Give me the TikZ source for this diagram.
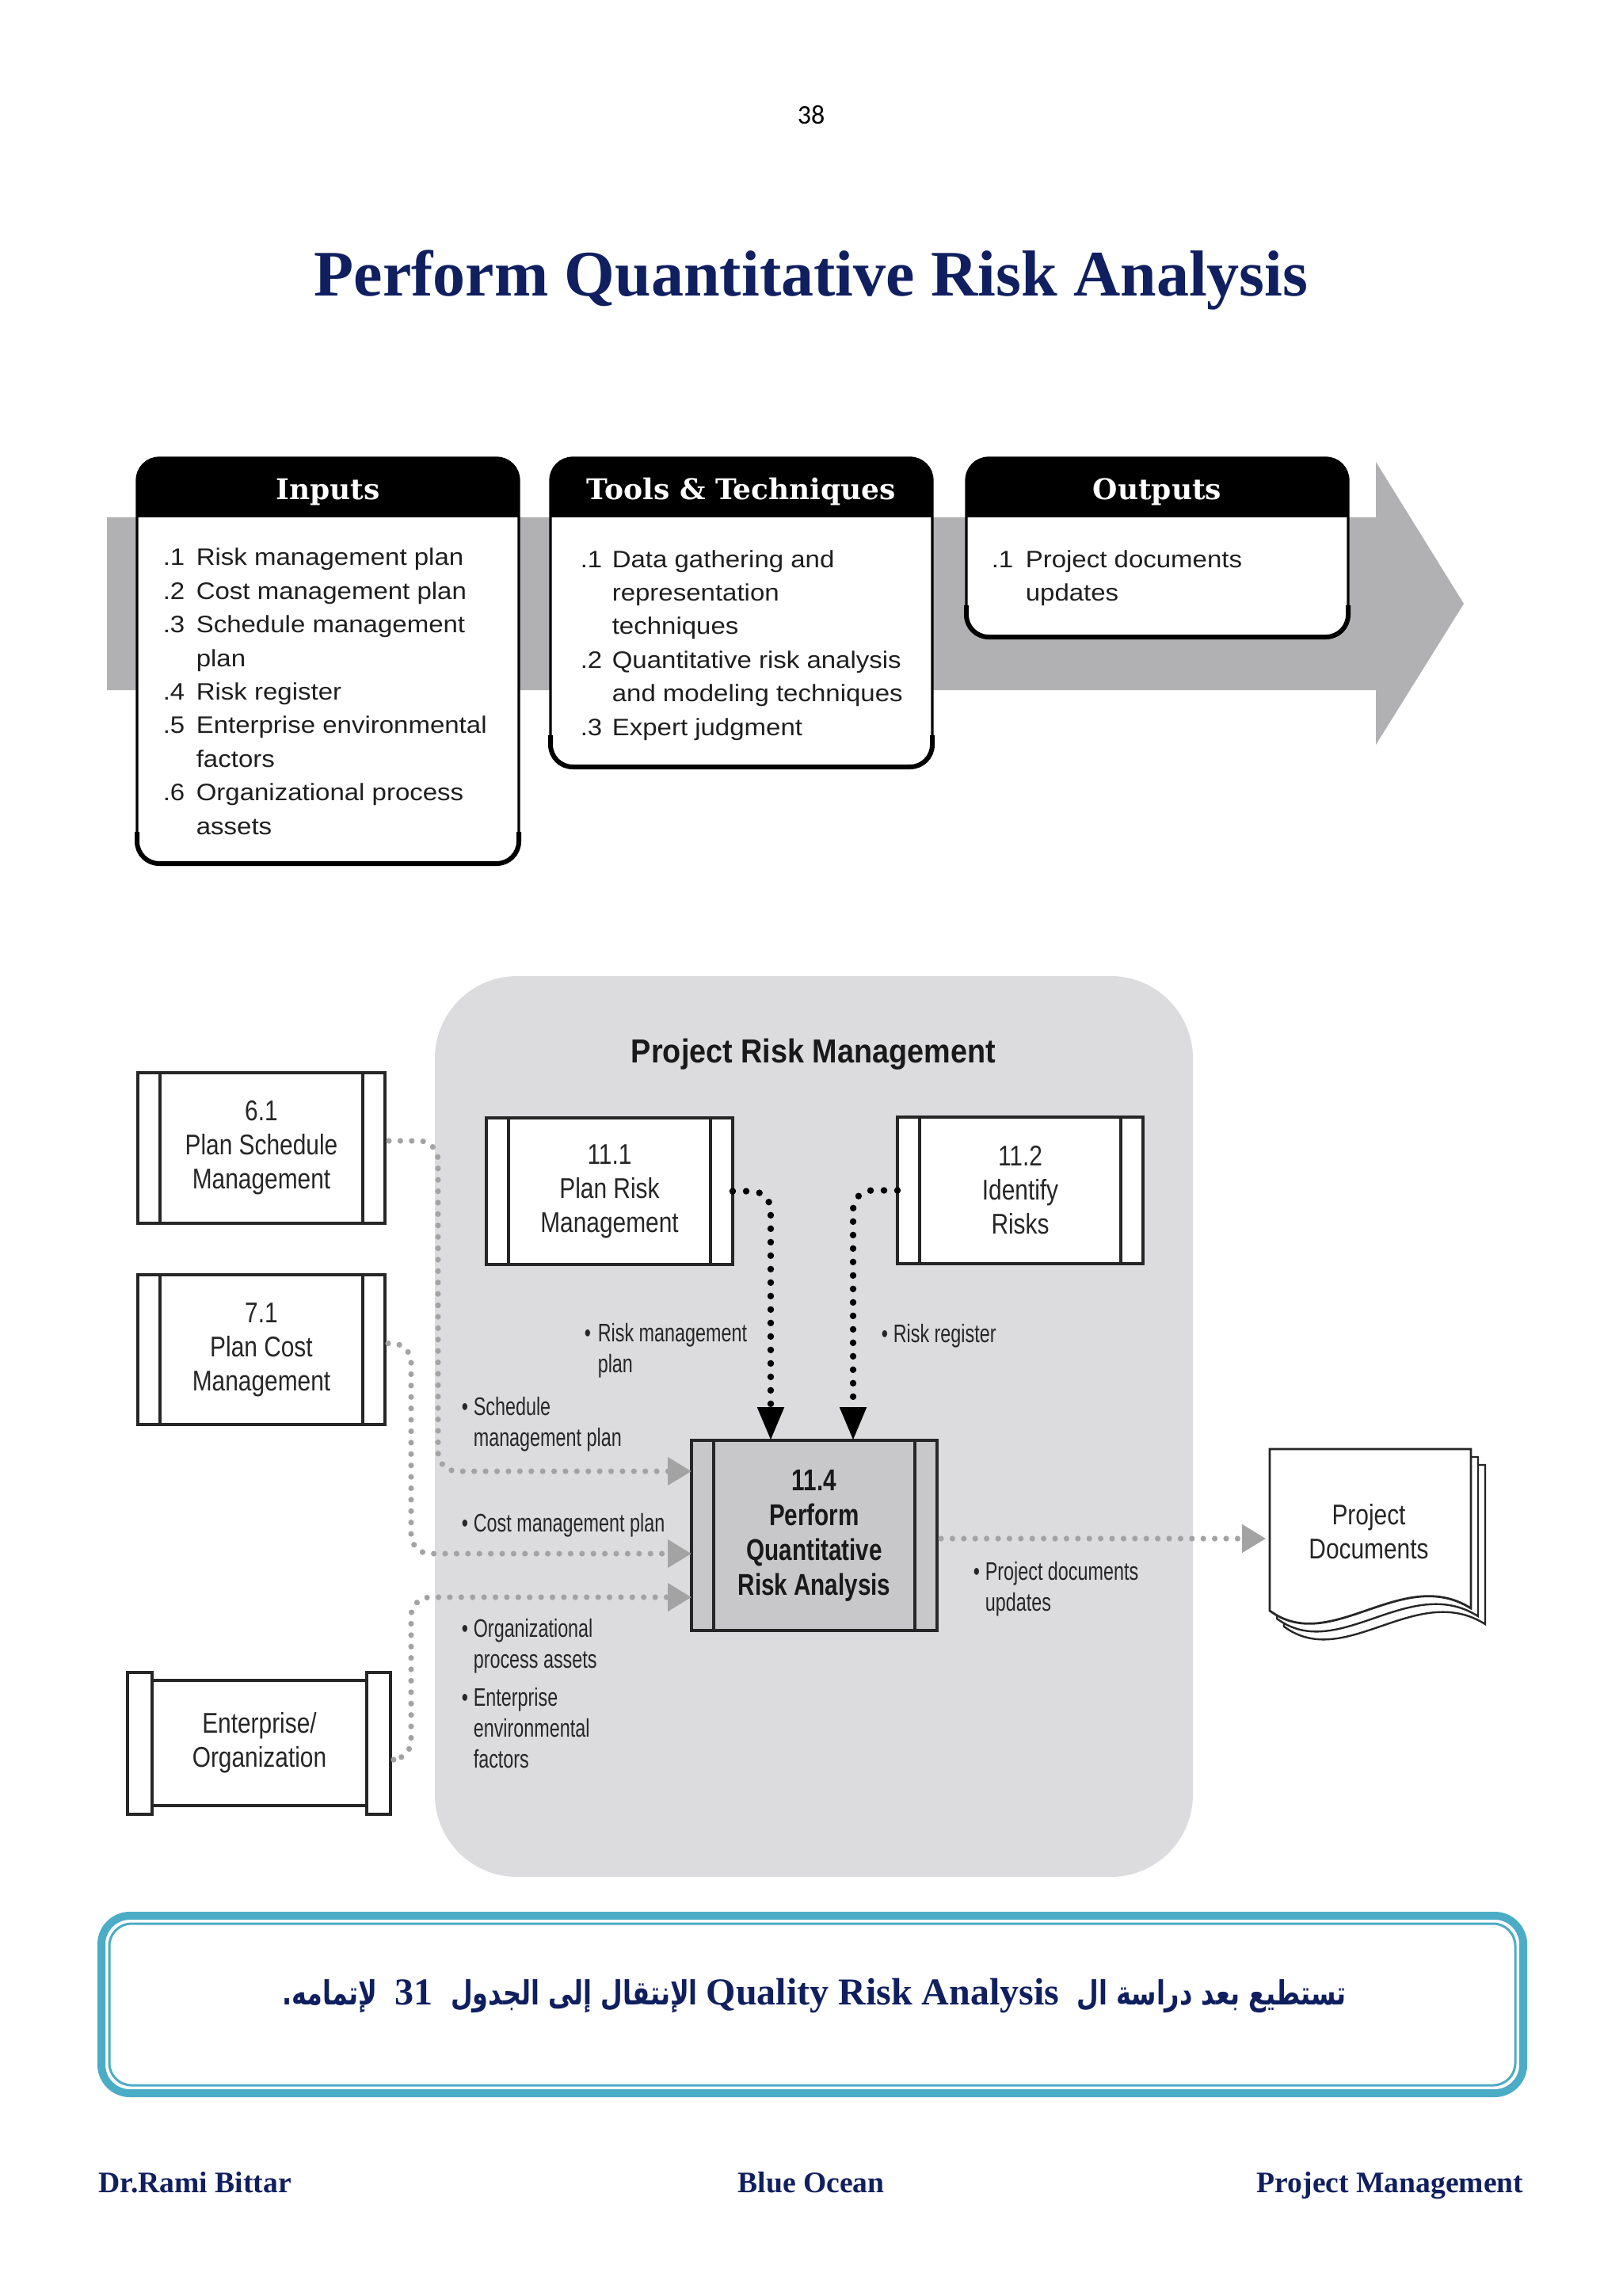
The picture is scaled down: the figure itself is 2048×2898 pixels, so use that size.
\documentclass[tikz,border=0pt]{standalone}
\usepackage{fontspec}
\setmainfont{Liberation Serif}
\newfontfamily\topfont{Liberation Sans}[FakeStretch=1.1]
\newfontfamily\boxfont{Liberation Sans}[FakeStretch=0.83]
\newfontfamily\bboxfont{Liberation Sans}[FakeStretch=0.78]
\newfontfamily\lblfont{Liberation Sans}[FakeStretch=0.73]
\newfontfamily\prmfont{Liberation Sans}[FakeStretch=0.9]
\newfontfamily\hdrfont{DejaVu Serif}
\newfontfamily\pnfont{Carlito}
\newfontfamily\arabicfont[Script=Arabic,FakeStretch=0.76]{DejaVu Sans}
\TeXXeTstate=1
\usetikzlibrary{arrows.meta,calc}
\definecolor{ttlblue}{HTML}{0F1F5F}
\definecolor{bandgray}{HTML}{B1B0B2}
\definecolor{prmgray}{HTML}{DCDBDD}
\definecolor{boxgray}{HTML}{C8C7C9}
\definecolor{dotgray}{HTML}{A3A3A3}
\definecolor{frameblue}{HTML}{4BACC6}
\definecolor{inkgray}{HTML}{262626}
\tikzset{
  topbox/.style={draw=black, line width=0.8pt, fill=white, rounded corners=7pt, inner sep=0pt, outer sep=0pt},
  hdrtext/.style={text=white, font=\hdrfont\bfseries\fontsize{9}{11}\selectfont, inner sep=0pt},
  toptext/.style={text=black!88, font=\topfont\fontsize{7.5}{10.6}\selectfont, inner sep=0pt, anchor=base west},
  procbox/.style={draw=inkgray, line width=0.9pt, fill=white, inner sep=0pt, outer sep=0pt, align=center,
    text=inkgray, font=\boxfont\fontsize{9}{10.75}\selectfont,
    path picture={\draw[inkgray, line width=0.9pt]
      ([xshift=7pt]path picture bounding box.north west) -- ([xshift=7pt]path picture bounding box.south west)
      ([xshift=-7pt]path picture bounding box.north east) -- ([xshift=-7pt]path picture bounding box.south east);}},
  lbl/.style={text=inkgray, font=\lblfont\fontsize{8}{9.75}\selectfont, inner sep=0pt, anchor=base west},
  graydot/.style={draw=dotgray, line width=1.8pt, line cap=round, dash pattern=on 0pt off 3.6pt, rounded corners=6pt, -{Triangle[length=7.5pt,width=8.5pt]}},
  blackdot/.style={draw=black, line width=2.1pt, line cap=round, dash pattern=on 0pt off 4.25pt, rounded corners=6pt, -{Triangle[length=10.5pt,width=8pt]}},
  foot/.style={text=ttlblue, font=\bfseries\fontsize{9.4}{11}\selectfont, inner sep=0pt},
}
\begin{document}
\begin{tikzpicture}[x=0.25pt,y=-0.25pt]
\useasboundingbox (0,0) rectangle (2048,2898);
\fill[white] (0,0) rectangle (2048,2898);

% page number and title
\node[font=\pnfont\fontsize{8.5}{10}\selectfont, inner sep=0pt] (pnum) at (1024,145) {38};
\node[font=\bfseries\fontsize{20.5}{24}\selectfont, text=ttlblue, inner sep=0pt] (title) at (1024,353) {Perform Quantitative Risk Analysis};

% ---------- ITTO band ----------
\fill[bandgray] (135,653) -- (1737,653) -- (1737,583) -- (1848,762) -- (1737,940) -- (1737,871) -- (135,871) -- cycle;

\node[topbox, minimum width=120.5pt, minimum height=128pt] (inp) at (414,834) {};
\node[topbox, minimum width=120.5pt, minimum height=97.5pt] (tool) at (936,773) {};
\node[topbox, minimum width=120.5pt, minimum height=56.5pt] (outp) at (1461,691) {};
\foreach \b in {inp,tool,outp}{
  \begin{scope}
    \clip (\b.north west) rectangle ($(\b.north east)+(0,75)$);
    \fill[black, rounded corners=7pt] (\b.north west) rectangle (\b.south east);
  \end{scope}
  \draw[black, line width=1.5pt, rounded corners=7pt] ($(\b.south west)+(0,-40)$) |- (\b.south) -| ($(\b.south east)+(0,-40)$);
}
\node[hdrtext] (inph) at ($(inp.north)+(0,43)$) {Inputs};
\node[hdrtext] (toolh) at ($(tool.north)+(0,43)$) {Tools \& Techniques};
\node[hdrtext] (outph) at ($(outp.north)+(0,43)$) {Outputs};

\node[toptext] (inpt) at (205,714) {\begin{tabular}[t]{@{}p{10.5pt}@{}l@{}}
.1 & Risk management plan\\
.2 & Cost management plan\\
.3 & Schedule management\\
   & plan\\
.4 & Risk register\\
.5 & Enterprise environmental\\
   & factors\\
.6 & Organizational process\\
   & assets
\end{tabular}};
\node[toptext] (toolt) at (732,716) {\begin{tabular}[t]{@{}p{10pt}@{}l@{}}
.1 & Data gathering and\\
   & representation\\
   & techniques\\
.2 & Quantitative risk analysis\\
   & and modeling techniques\\
.3 & Expert judgment
\end{tabular}};
\node[toptext] (outpt) at (1251,716) {\begin{tabular}[t]{@{}p{10.75pt}@{}l@{}}
.1 & Project documents\\
   & updates
\end{tabular}};

% ---------- Data flow ----------
\node[fill=prmgray, rounded corners=26pt, minimum width=239.25pt, minimum height=284.25pt, inner sep=0pt] (prm) at (1027.5,1800.5) {};
\node[font=\prmfont\bfseries\fontsize{10.5}{12}\selectfont, text=black!90, inner sep=0pt] (prml) at (1027,1331) {Project Risk Management};

\node[procbox, minimum width=78pt, minimum height=47.5pt] (s61) at (330,1449) {6.1\\Plan Schedule\\Management};
\node[procbox, minimum width=78pt, minimum height=47.25pt] (s71) at (330,1703.5) {7.1\\Plan Cost\\Management};
\node[procbox, minimum width=77.75pt, minimum height=46.25pt] (r111) at (769.5,1503.5) {11.1\\Plan Risk\\Management};
\node[procbox, minimum width=77.5pt, minimum height=46.25pt] (r112) at (1288,1502.5) {11.2\\Identify\\Risks};
\node[procbox, fill=boxgray, minimum width=77.5pt, minimum height=60pt, text=black!90,
      font=\bboxfont\bfseries\fontsize{9.5}{11}\selectfont] (p114) at (1028,1938) {11.4\\Perform\\Quantitative\\Risk Analysis};

% Enterprise / Organization
\node[draw=inkgray, line width=0.9pt, fill=white, inner sep=0pt, outer sep=0pt, align=center, text=inkgray,
      font=\boxfont\fontsize{9}{10.75}\selectfont, minimum width=67.75pt, minimum height=39.5pt] (ent) at (327.5,2200) {Enterprise/\\Organization};
\draw[inkgray, line width=0.9pt, fill=white] ($(ent.north west)+(-31,-10)$) rectangle ($(ent.south west)+(0,11)$);
\draw[inkgray, line width=0.9pt, fill=white] ($(ent.north east)+(0,-10)$) rectangle ($(ent.south east)+(30,11)$);

% Project documents
\begin{scope}[shift={(18,20)}]
\draw[inkgray, line width=0.6pt, fill=white] (1603,1829) -- (1857,1829) -- (1857,2030) .. controls (1770,1975) and (1680,2090) .. (1603,2033) -- cycle;
\end{scope}
\begin{scope}[shift={(9,10)}]
\draw[inkgray, line width=0.6pt, fill=white] (1603,1829) -- (1857,1829) -- (1857,2030) .. controls (1770,1975) and (1680,2090) .. (1603,2033) -- cycle;
\end{scope}
\draw[inkgray, line width=0.7pt, fill=white] (1603,1829) -- (1857,1829) -- (1857,2030) .. controls (1770,1975) and (1680,2090) .. (1603,2033) -- cycle;
\node[inner sep=0pt, minimum width=63.5pt, minimum height=51pt, align=center, text=inkgray,
      font=\boxfont\fontsize{9}{10.75}\selectfont] (docs) at (1728,1933) {Project\\Documents};

% connectors
\draw[blackdot] (r111.east) -| ($(p114.north)+(-55,0)$);
\draw[blackdot] (r112.west) -| ($(p114.north)+(49,0)$);
\draw[graydot] ($(s61.east)+(5,-9)$) -| ($(p114.west)+(-320,-81)$) -- ($(p114.west)+(0,-81)$);
\draw[graydot] ($(s71.east)+(4,-8)$) -| ($(p114.west)+(-354,23)$) -- ($(p114.west)+(0,23)$);
\draw[graydot] ($(ent.east)+(34,21)$) -| ($(p114.west)+(-354,78)$) -- ($(p114.west)+(0,78)$);
\draw[graydot] ($(p114.east)+(5,4)$) -- ($(docs.west)+(-2,9)$);

% labels
\node[lbl] (lrmp) at (737,1693) {\begin{tabular}[t]{@{}p{4.25pt}@{}l@{}}\textbullet & Risk management\\ & plan\end{tabular}};
\node[lbl] (lrr) at (1112,1694) {\begin{tabular}[t]{@{}p{3.75pt}@{}l@{}}\textbullet & Risk register\end{tabular}};
\node[lbl] (lsmp) at (582,1786) {\begin{tabular}[t]{@{}p{3.75pt}@{}l@{}}\textbullet & Schedule\\ & management plan\end{tabular}};
\node[lbl] (lcmp) at (582,1933) {\begin{tabular}[t]{@{}p{3.75pt}@{}l@{}}\textbullet & Cost management plan\end{tabular}};
\node[lbl] (lopa) at (582,2066) {\begin{tabular}[t]{@{}p{3.75pt}@{}l@{}}\textbullet & Organizational\\ & process assets\end{tabular}};
\node[lbl] (leef) at (582,2153) {\begin{tabular}[t]{@{}p{3.75pt}@{}l@{}}\textbullet & Enterprise\\ & environmental\\ & factors\end{tabular}};
\node[lbl] (lpdu) at (1228,1994) {\begin{tabular}[t]{@{}p{3.75pt}@{}l@{}}\textbullet & Project documents\\ & updates\end{tabular}};

% ---------- note frame ----------
\draw[frameblue, line width=2.5pt, rounded corners=9pt] (128,2418) rectangle (1923,2642);
\draw[frameblue, line width=0.75pt, rounded corners=7pt] (138,2428) rectangle (1913,2632);
\node[text=ttlblue, inner sep=0pt, font=\fontsize{12}{14}\selectfont] (note) at (1028,2519)
  {{\arabicfont\bfseries\fontsize{10.5}{14}\selectfont\beginR تستطيع بعد دراسة ال \ \beginL{\rmfamily\bfseries\fontsize{12}{14}\selectfont Quality Risk Analysis}\endL{}\ الإنتقال إلى الجدول \ \beginL{\rmfamily\bfseries\fontsize{12}{14}\selectfont 31}\endL{}\ \ لإتمامه.\endR}};

% ---------- footer ----------
\node[foot, anchor=base west] (f1) at (124,2767) {Dr.Rami Bittar};
\node[foot, anchor=base] (f2) at (1024,2767) {Blue Ocean};
\node[foot, anchor=base east] (f3) at (1924,2767) {Project Management};
\end{tikzpicture}
\end{document}
